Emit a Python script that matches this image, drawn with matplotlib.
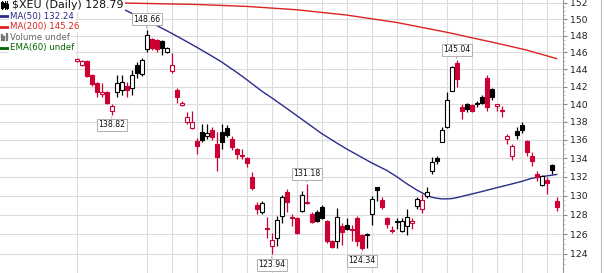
import numpy as np
import matplotlib.pyplot as plt
from matplotlib.ticker import FixedLocator, NullFormatter, FuncFormatter
from matplotlib.lines import Line2D

# daily candles for $XEU, oldest first
opens = [144.99, 144.53, 144.99, 143.38, 142.46, 141.20, 141.43, 139.17, 141.43, 141.66,
         142.12, 141.89, 144.53, 143.49, 146.41, 147.59, 147.47, 147.35, 146.05, 143.84,
         141.66, 139.85, 137.95, 137.28, 135.85, 136.84, 136.40, 137.06, 135.53, 136.84,
         137.28, 136.07, 134.98, 134.39, 134.01, 131.98, 129.05, 128.33, 126.64, 124.78,
         125.58, 127.91, 130.40, 127.71, 127.61, 128.43, 129.36, 128.02, 128.33, 128.84,
         127.30, 125.28, 125.28, 126.79, 126.89, 126.54, 127.61, 125.88, 125.93, 128.12,
         130.88, 129.57, 127.61, 126.44, 127.25, 126.30, 126.79, 127.10, 128.94, 128.58,
         130.00, 132.62, 134.00, 135.74, 137.39, 141.54, 144.76, 139.63, 139.96, 139.85,
         140.18, 140.86, 143.03, 141.77, 139.74, 139.34, 136.12, 134.23, 136.95, 137.61,
         135.85, 134.23, 132.30, 131.14, 131.66, 133.26, 129.46]
highs = [145.35, 145.12, 145.12, 143.49, 142.57, 142.40, 141.54, 140.07, 143.38, 143.38,
         142.57, 143.95, 144.88, 145.35, 148.66, 147.71, 147.59, 147.47, 146.69, 145.94,
         141.89, 140.41, 139.06, 139.17, 136.18, 137.72, 137.72, 137.39, 136.84, 137.72,
         137.61, 136.40, 135.09, 134.98, 134.12, 132.51, 129.36, 129.46, 127.81, 126.08,
         127.91, 130.09, 130.72, 128.12, 127.81, 130.51, 131.18, 128.33, 128.53, 129.05,
         127.40, 125.38, 128.74, 127.10, 127.61, 126.89, 127.91, 125.98, 126.08, 129.98,
         130.93, 129.88, 127.81, 126.79, 127.61, 127.61, 128.64, 127.61, 129.88, 130.19,
         130.93, 134.12, 134.20, 137.39, 141.43, 144.41, 145.04, 139.96, 140.18, 139.96,
         140.30, 141.09, 143.38, 141.89, 140.07, 139.74, 136.62, 135.53, 137.39, 137.95,
         135.95, 134.66, 132.62, 132.20, 131.98, 133.37, 129.88]
lows = [144.88, 144.41, 143.15, 142.12, 140.86, 140.80, 139.96, 138.82, 140.86, 141.09,
        140.86, 141.09, 143.03, 143.27, 146.05, 146.29, 146.05, 145.70, 145.94, 143.61,
        140.18, 139.74, 137.72, 137.17, 134.44, 135.74, 136.07, 135.96, 132.62, 134.98,
        136.29, 134.87, 133.90, 133.90, 133.05, 130.62, 128.12, 128.02, 125.58, 123.94,
        124.80, 127.10, 128.33, 126.79, 125.98, 128.33, 129.15, 127.10, 127.20, 127.51,
        125.08, 124.58, 124.58, 124.88, 126.39, 125.28, 124.78, 124.34, 124.58, 126.89,
        129.46, 128.64, 126.59, 126.08, 126.49, 126.18, 125.88, 126.49, 128.64, 128.22,
        129.78, 132.30, 133.37, 135.74, 137.30, 141.50, 142.00, 138.28, 139.06, 139.10,
        139.63, 139.96, 139.17, 140.52, 139.17, 138.50, 135.53, 133.79, 136.07, 136.73,
        134.23, 133.16, 131.56, 131.03, 130.19, 132.30, 128.43]
closes = [145.23, 144.99, 143.27, 142.34, 141.43, 141.35, 140.18, 139.74, 142.46, 142.57,
          141.66, 143.38, 143.61, 145.12, 148.07, 146.53, 146.41, 146.47, 146.53, 144.53,
          140.86, 140.18, 138.50, 137.95, 135.31, 135.96, 136.73, 136.29, 134.12, 135.74,
          136.51, 135.20, 134.44, 134.23, 133.48, 130.83, 128.64, 129.26, 126.49, 125.38,
          127.40, 129.88, 129.36, 127.61, 126.08, 130.09, 129.20, 127.20, 127.30, 127.61,
          125.28, 124.68, 127.81, 126.18, 126.49, 126.44, 125.28, 124.58, 125.98, 129.67,
          130.62, 128.84, 127.00, 126.34, 127.30, 127.38, 127.81, 127.30, 129.67, 129.50,
          130.41, 133.58, 133.65, 137.06, 140.52, 144.30, 142.91, 139.17, 139.40, 139.17,
          139.96, 140.18, 139.63, 140.86, 139.96, 139.23, 136.46, 135.31, 136.51, 137.06,
          134.66, 133.69, 131.95, 132.10, 131.35, 132.73, 128.79]
prev_close_start = 145.60

# moving averages at some candles
ma50_idx = [1, 5, 10, 13, 15, 18, 20, 23, 25, 28, 30, 33, 35, 38, 40, 43, 45, 48, 50, 53,
            55, 58, 60, 63, 65, 67, 69, 71, 72, 73, 74, 75, 76, 77, 80, 82, 85, 87, 90, 92,
            94, 97]
ma50_val = [153.92, 152.75, 151.29, 150.41, 149.83, 148.90, 148.27, 147.28, 146.61, 145.57,
            144.86, 143.65, 142.81, 141.49, 140.72, 139.52, 138.71, 137.50, 136.70, 135.66,
            135.00, 134.09, 133.49, 132.68, 132.01, 131.26, 130.59, 130.03, 129.83, 129.72,
            129.65, 129.65, 129.68, 129.78, 130.16, 130.42, 130.83, 131.09, 131.50, 131.83,
            132.01, 132.24]
ma200_idx = [1, 10, 25, 35, 45, 55, 65, 75, 85, 91, 97]
ma200_val = [152.02, 151.96, 151.78, 151.54, 151.13, 150.48, 149.58, 148.40, 147.09, 146.27, 145.26]

price_ticks = list(range(124, 153, 2))
grid_idx = [1, 15, 20, 25, 30, 35, 40, 45, 50, 55, 60, 65, 70, 75, 80, 85, 90, 95]

flag_idx = [8, 15, 40, 47, 58, 77]
flag_text = ['138.82', '148.66', '123.94', '131.18', '124.34', '145.04']
flag_side = ['low', 'high', 'low', 'high', 'low', 'high']

title = '$XEU (Daily) 128.79'
legend_items = [('MA(50) 132.24', '#2b2b8c'), ('MA(200) 145.26', '#dd2222'),
                ('Volume undef', '#666666'), ('EMA(60) undef', '#006600')]

RED = '#cc0033'
BLACK = '#000000'

fig = plt.figure(figsize=(6.04, 2.73), dpi=100)
ax = fig.add_axes([0, 0, 563 / 604, 1])
ax.set_yscale('log')
ax.set_ylim(122.09, 152.33)
ax.set_xlim(-14.34, 98.26)

idx = np.arange(1, len(closes) + 1)
o = np.array(opens)
c = np.array(closes)
prev = np.concatenate([[prev_close_start], c[:-1]])
edge = np.where(c < prev, RED, BLACK)
face = np.where(c < o, edge, 'white')

# wicks then bodies
ax.vlines(idx, lows, highs, colors=edge, lw=0.9, zorder=3)
bottoms = np.minimum(o, c)
heights = np.maximum(np.abs(c - o), 0.09)
ax.bar(idx, heights, bottom=bottoms, width=0.78, color=face, edgecolor=edge,
       linewidth=0.8, zorder=4)

ax.plot(ma50_idx, ma50_val, color='#2b2b8c', lw=1.0, zorder=2)
ax.plot(ma200_idx, ma200_val, color='#dd2222', lw=1.0, zorder=2)

# grid
for p in price_ticks:
    ax.axhline(p, color='#dcdcdc', lw=0.8, zorder=0)
for g in grid_idx:
    ax.axvline(g, color='#dcdcdc', lw=0.8, zorder=0)

ax.yaxis.tick_right()
ax.yaxis.set_major_locator(FixedLocator(price_ticks))
ax.yaxis.set_major_formatter(FuncFormatter(lambda v, pos: '%d' % round(v)))
ax.yaxis.set_minor_locator(FixedLocator(np.arange(123, 153, 0.5)))
ax.yaxis.set_minor_formatter(NullFormatter())
ax.tick_params(axis='y', which='major', length=3, color='#888888', labelsize=6.7,
               pad=2, labelcolor='#222222')
ax.tick_params(axis='y', which='minor', length=1.5, color='#bbbbbb')
ax.set_xticks([])
for s in ['left', 'top', 'bottom']:
    ax.spines[s].set_visible(False)
ax.spines['right'].set_color('#999999')
ax.patch.set_alpha(0)

# price flags
for i, txt, side in zip(flag_idx, flag_text, flag_side):
    y = highs[i - 1] if side == 'high' else lows[i - 1]
    dy = 7.8 if side == 'high' else -7.4
    ax.annotate(txt, xy=(i, y), xytext=(0, dy), textcoords='offset points',
                ha='center', va='center', fontsize=5.6, color='#111111',
                bbox=dict(boxstyle='square,pad=0.2', fc='white', ec='#b0b0b0', lw=0.7),
                arrowprops=dict(arrowstyle='-', color='#b0b0b0', lw=0.7, shrinkA=0, shrinkB=1.5),
                zorder=6)

# title and legend block
def fx(px):
    return px / 604

def fy(py):
    return 1 - py / 273

fig.text(fx(12), fy(5), title, fontsize=7.9, va='center', ha='left', color='#111111',
         bbox=dict(boxstyle='square,pad=0.15', fc='white', ec='none'), zorder=10)
for k, x0 in enumerate([1.5, 4.5, 7.5]):
    fig.add_artist(Line2D([fx(x0), fx(x0)], [fy(1), fy(9)], color='black', lw=0.7))
    fig.add_artist(Line2D([fx(x0), fx(x0)], [fy(3 + k), fy(7 - k % 2)], color='black', lw=2.2))

for k, (txt, col) in enumerate(legend_items):
    yy = 16 + k * 10.5
    fig.text(fx(10), fy(yy), txt, fontsize=6.2, va='center', ha='left', color=col,
             bbox=dict(boxstyle='square,pad=0.1', fc='white', ec='none'), zorder=10)
    if txt.startswith('Volume'):
        for j, hgt in enumerate([5, 3, 6]):
            fig.add_artist(Line2D([fx(1.5 + 2.5 * j)] * 2, [fy(yy + 3), fy(yy + 3 - hgt)],
                                  color='#777777', lw=1.6))
    else:
        fig.add_artist(Line2D([fx(0), fx(9)], [fy(yy), fy(yy)], color=col, lw=2.0))

fig.add_artist(Line2D([fx(600.5), fx(600.5)], [0, 1], color='#bbbbbb', lw=0.8))

fig.savefig('out.png', dpi=100)
